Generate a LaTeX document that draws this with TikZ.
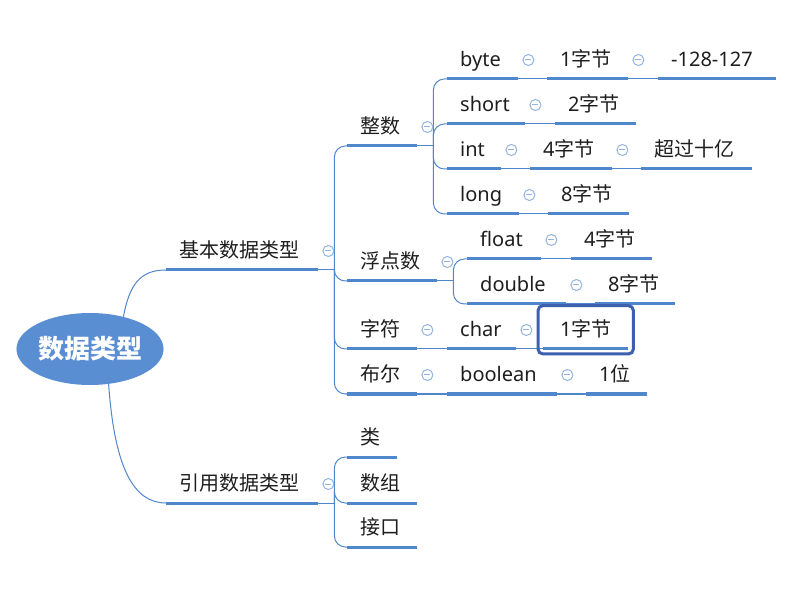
\documentclass[tikz,border=0pt]{standalone}
\usepackage{fontspec}
\setmainfont{Noto Sans CJK SC}
\newfontfamily\lat{Noto Sans}
\usetikzlibrary{fit,shapes.geometric}
\definecolor{ulc}{HTML}{4F86CC}
\definecolor{rootc}{HTML}{5A8ED3}
\definecolor{foldc}{HTML}{93B3E0}
\definecolor{selc}{HTML}{3C60AE}
\definecolor{txt}{HTML}{1E1E1E}
\begin{document}
\begin{tikzpicture}[x=1pt,y=-1pt,
 topic/.style={anchor=south west, inner xsep=13pt, inner ysep=0pt, minimum height=38pt, text height=18pt, text depth=5pt, align=left, text=txt, font=\fontsize{20}{22}\selectfont},
 uline/.style={ulc, line width=3pt},
 conn/.style={ulc, line width=1pt},
 fold/.style={circle, draw=foldc, line width=1pt, minimum size=11pt, inner sep=0pt,
   path picture={\draw[foldc, line width=1pt] ([xshift=-3pt]path picture bounding box.center) -- ([xshift=3pt]path picture bounding box.center);}},
 rootnode/.style={ellipse, fill=rootc, text=white, minimum width=144pt, minimum height=72pt, inner sep=0pt, font=\fontsize{26}{28}\selectfont\bfseries},
 selbox/.style={draw=selc, line width=3pt, rounded corners=5pt, inner sep=5pt},
]
\useasboundingbox (0,0) rectangle (795,593);

\node[rootnode] (root) at (90,349) {数据类型};

% level 1
\node[topic, text width=126pt] (jb) at (166,270) {基本数据类型};
\node[topic, text width=126pt] (yy) at (166,503) {引用数据类型};
% level 2
\node[topic, text width=44pt] (zs) at (347,146) {整数};
\node[topic, text width=64pt] (fd) at (347,281) {浮点数};
\node[topic, text width=44pt] (zf) at (347,349) {字符};
\node[topic, text width=44pt] (be) at (347,394) {布尔};
\node[topic, text width=24pt] (lei) at (347,457) {类};
\node[topic, text width=44pt] (sz) at (347,503) {数组};
\node[topic, text width=44pt] (jk) at (347,547) {接口};
% level 3
\node[topic, text width=45pt] (byte) at (447,79) {\lat byte};
\node[topic, text width=55pt] (b1) at (547,79) {{\lat 1}字节};
\node[topic, text width=92pt] (b2) at (658,79) {\lat -128-127};
\node[topic, text width=52pt] (short) at (447,124) {\lat short};
\node[topic, text width=55pt] (s1) at (555,124) {{\lat 2}字节};
\node[topic, text width=28pt] (int) at (447,169) {\lat int};
\node[topic, text width=56pt] (i1) at (530,169) {{\lat 4}字节};
\node[topic, text width=85pt] (i2) at (641,169) {超过十亿};
\node[topic, text width=46pt] (long) at (447,214) {\lat long};
\node[topic, text width=55pt] (l1) at (548,214) {{\lat 8}字节};
\node[topic, text width=48pt] (float) at (467,259) {\lat float};
\node[topic, text width=55pt] (f1) at (571,259) {{\lat 4}字节};
\node[topic, text width=73pt] (double) at (467,304) {\lat double};
\node[topic, text width=54pt] (d1) at (595,304) {{\lat 8}字节};
\node[topic, text width=43pt] (char) at (447,349) {\lat char};
\node[topic, inner xsep=17pt, text width=51pt] (c1) at (543,349) {{\lat 1}字节};
\node[topic, text width=84pt] (bool) at (447,394) {\lat boolean};
\node[topic, text width=35pt] (o1) at (586,394) {{\lat 1}位};

% root connectors
\draw[conn] (root.44) .. controls +(6,-32) and +(-26,0) .. (jb.south west);
\draw[conn] (root.-62) .. controls +(6,85) and +(-32,0) .. (yy.south west);

% branch trunks
\foreach \p in {jb,yy,zs,fd}
  \draw[conn] (\p.south east) -- ++(16,0);
\foreach \p/\c in {jb/zs,jb/fd,jb/zf,jb/be,yy/lei,yy/sz,yy/jk,zs/byte,zs/short,zs/int,zs/long,fd/float,fd/double}
  \draw[conn, rounded corners=11pt] ([xshift=16pt]\p.south east) |- (\c.south west);

% chain connectors
\foreach \a/\b in {zf/char,be/bool,byte/b1,b1/b2,short/s1,int/i1,i1/i2,long/l1,float/f1,double/d1,char/c1,bool/o1}
  \draw[conn] (\a.south east) -- (\b.south west);

% underlines
\foreach \n in {jb,yy,zs,fd,zf,be,lei,sz,jk,byte,b1,b2,short,s1,int,i1,i2,long,l1,float,f1,double,d1,char,c1,bool,o1}
  \draw[uline] (\n.south west) -- (\n.south east);

% fold markers
\foreach \n in {jb,yy,zs,fd,zf,be,byte,b1,short,int,i1,long,float,double,char,bool}
  \node[fold] (\n-f) at ([xshift=10pt,yshift=19pt]\n.south east) {};

% selection box
\node[selbox, fit=(c1)] (sel) {};
\end{tikzpicture}
\end{document}
